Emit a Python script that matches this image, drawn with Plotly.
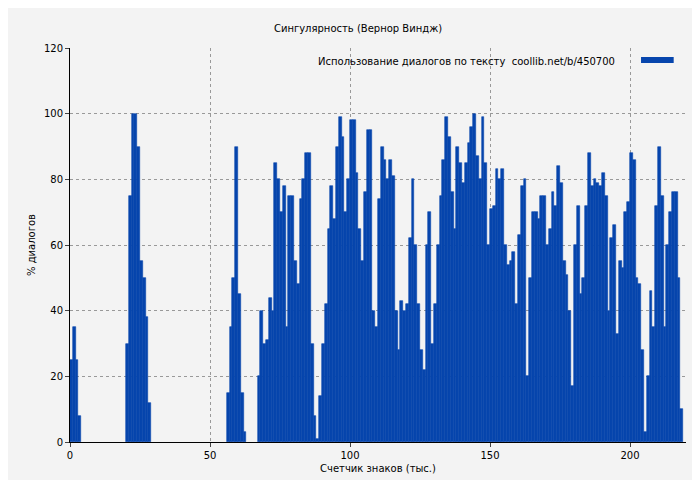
import plotly.graph_objects as go

# values per 1 thousand characters, index = thousands
seg_a = [25, 35, 25, 8]                     # 0..3
seg_b = [30, 75, 100, 100, 90, 55, 50, 38, 12]  # 20..28
seg_c = [15, 35, 50, 90, 45, 15, 3]          # 56..62
seg_d = [20, 40, 30, 31, 44, 40, 85, 80, 70, 78, 35, 75, 75, 55, 48, 74, 80, 88, 88, 30, 8, 1,
         14, 30, 42, 65, 78, 68, 90, 99, 93, 70, 80, 98, 98, 82, 65, 55, 76, 95, 95, 40, 35, 74,
         90, 86, 80, 86, 81, 40,
         28, 43, 40, 42, 62, 80, 60, 42, 28, 22, 60, 70, 30, 42, 60, 75, 86, 99, 93, 76, 65, 90,
         85, 79, 85, 91, 96, 100, 87, 80, 99, 85, 60, 71, 72, 83, 80, 83, 60, 54, 55, 58, 42, 63,
         78, 80, 20, 50, 70, 70,
         68, 75, 75, 60, 65, 76, 72, 84, 79, 55, 51, 40, 17, 60, 72, 45, 50, 72, 88, 78, 80, 79,
         78, 82, 75, 40, 62, 66, 33, 55, 53, 70, 73, 88, 86, 50, 48, 28, 3, 20, 46, 35, 72, 90,
         75, 35, 60, 70, 76, 76, 50, 10]   # 67..218

starts = [0, 20, 56, 67]
segments = [seg_a, seg_b, seg_c, seg_d]
xs, ys = [], []
for s, seg in zip(starts, segments):
    for i, v in enumerate(seg):
        xs.append(s + i + 0.5)
        ys.append(v)

title = "Сингулярность (Вернор Виндж)"
legend_text = "Использование диалогов по тексту  coollib.net/b/450700"
x_title = "Счетчик знаков (тыс.)"
y_title = "% диалогов"
blue = "#0645AD"

fig = go.Figure(go.Bar(x=xs, y=ys, width=1.0, marker=dict(color=blue, line=dict(width=0.6, color=blue)),
                       name=legend_text))
fig.update_layout(
    width=700, height=480, margin=dict(l=62, r=22, t=40, b=46, autoexpand=False),
    paper_bgcolor="#f3f3f3", plot_bgcolor="#f3f3f3", showlegend=False, bargap=0,
    font=dict(family="DejaVu Sans", size=10, color="#000"),
    title=dict(text=title, x=0.5, y=0.965, xanchor="center", font=dict(size=10)),
)
grid = dict(showgrid=True, gridcolor="#999", griddash="dot", gridwidth=1,
            showline=True, linecolor="#000", linewidth=1, ticks="outside", ticklen=4,
            zeroline=False, automargin=False, tickfont=dict(size=10))
fig.update_xaxes(range=[0, 220], tickvals=[0, 50, 100, 150, 200],
                 title=dict(text=x_title, standoff=4, font=dict(size=10)), **grid)
fig.update_yaxes(range=[0, 120], tickvals=[0, 20, 40, 60, 80, 100, 120],
                 title=dict(text=y_title, standoff=6, font=dict(size=10)), **grid)
fig.add_annotation(xref="paper", yref="paper", x=0.888, y=0.985, xanchor="right", yanchor="top",
                   text=legend_text, showarrow=False, font=dict(size=10))
fig.add_shape(type="rect", xref="paper", yref="paper", x0=0.927, x1=0.98, y0=0.962, y1=0.977,
              fillcolor=blue, line=dict(width=0))
fig.write_html("out.html")
